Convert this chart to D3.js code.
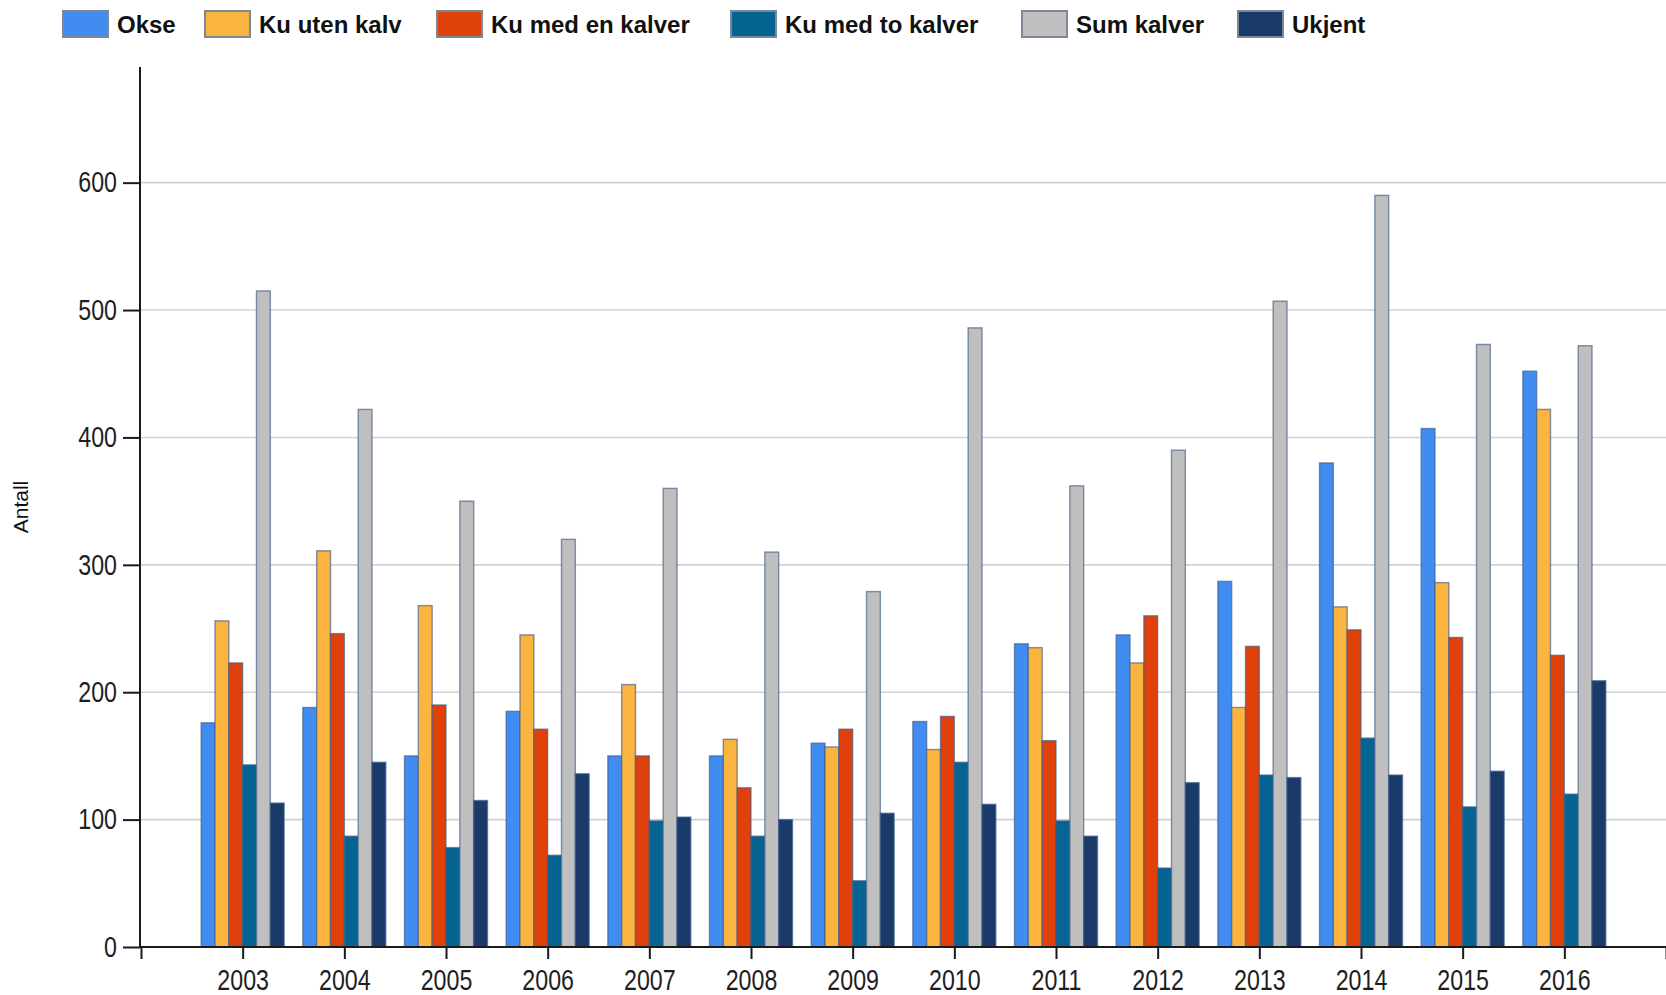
<!DOCTYPE html>
<html>
<head>
<meta charset="utf-8">
<script src="https://cdn.jsdelivr.net/npm/d3@7"></script>
<style>
  body { margin: 0; background: #fff; }
  svg { display: block; }
  .tick-label { font-family: 'Liberation Sans', Arial, sans-serif; font-size: 29px; fill: #1e1e1e; }
  .legend-label { font-family: 'Liberation Sans', Arial, sans-serif; font-weight: bold; font-size: 24px; fill: #111; }
</style>
</head>
<body>
<svg id="chart" width="1666" height="995"></svg>
<script>
// data
const years = [2003, 2004, 2005, 2006, 2007, 2008, 2009, 2010, 2011, 2012, 2013, 2014, 2015, 2016]
const seriesNames = ['Okse', 'Ku uten kalv', 'Ku med en kalver', 'Ku med to kalver', 'Sum kalver', 'Ukjent']
const okse = [176, 188, 150, 185, 150, 150, 160, 177, 238, 245, 287, 380, 407, 452]
const kuUtenKalv = [256, 311, 268, 245, 206, 163, 157, 155, 235, 223, 188, 267, 286, 422]
const kuMedEnKalver = [223, 246, 190, 171, 150, 125, 171, 181, 162, 260, 236, 249, 243, 229]
const kuMedToKalver = [143, 87, 78, 72, 99, 87, 52, 145, 99, 62, 135, 164, 110, 120]
const sumKalver = [515, 422, 350, 320, 360, 310, 279, 486, 362, 390, 507, 590, 473, 472]
const ukjent = [113, 145, 115, 136, 102, 100, 105, 112, 87, 129, 133, 135, 138, 209]
const yTicks = [0, 100, 200, 300, 400, 500, 600]
const colors = ['#418cf0', '#fcb441', '#e0400a', '#056492', '#bfbfbf', '#1a3b69']

const seriesValues = [okse, kuUtenKalv, kuMedEnKalver, kuMedToKalver, sumKalver, ukjent]

const svg = d3.select('#chart')
const axisLeftX = 140
const axisBottomY = 947
const rightX = 1666
const squeeze = 0.8 // tick labels in the picture are a narrow face

const x = d3.scaleLinear().domain([2002, 2017]).range([141, 1666])
const y = d3.scaleLinear().domain([0, 690]).range([axisBottomY, 68])
const inner = d3.scaleBand().domain(seriesNames).range([-41.5, 41.5])

// gridlines
svg.append('g')
  .selectAll('line')
  .data(yTicks.filter(d => d > 0))
  .enter()
  .append('line')
  .attr('x1', axisLeftX)
  .attr('x2', rightX)
  .attr('y1', d => y(d))
  .attr('y2', d => y(d))
  .attr('stroke', '#d2d2d2')
  .attr('stroke-width', 1.6)

// bars
const rows = []
years.forEach((yr, i) => {
  seriesNames.forEach((name, s) => {
    rows.push({ year: yr, name: name, s: s, value: seriesValues[s][i] })
  })
})

svg.append('g')
  .selectAll('rect')
  .data(rows)
  .enter()
  .append('rect')
  .attr('x', d => x(d.year) + inner(d.name))
  .attr('width', inner.bandwidth())
  .attr('y', d => y(d.value))
  .attr('height', d => y(0) - y(d.value))
  .attr('fill', d => colors[d.s])
  .attr('stroke', '#3f5c88')
  .attr('stroke-opacity', 0.65)
  .attr('stroke-width', 1.4)

// y axis
const yAxis = d3.axisLeft(y)
  .tickValues(yTicks)
  .tickSize(17)
  .tickPadding(6)
  .tickSizeOuter(0)

const gy = svg.append('g')
  .attr('transform', `translate(${axisLeftX},0)`)
  .call(yAxis)
gy.select('.domain').remove()
gy.selectAll('.tick line').attr('stroke', '#1a1a1a').attr('stroke-width', 2)
gy.selectAll('.tick text')
  .attr('class', 'tick-label')
  .attr('font-size', null)
  .attr('font-family', null)
  .attr('x', -23 / squeeze)
  .attr('transform', `scale(${squeeze},1)`)

svg.append('line')
  .attr('x1', axisLeftX)
  .attr('x2', axisLeftX)
  .attr('y1', 67)
  .attr('y2', axisBottomY)
  .attr('stroke', '#1a1a1a')
  .attr('stroke-width', 2)

// x axis
const xAxis = d3.axisBottom(x)
  .tickValues(d3.range(2002, 2018))
  .tickFormat(d => (years.includes(d) ? d : ''))
  .tickSize(12)
  .tickPadding(10)
  .tickSizeOuter(0)

const gx = svg.append('g')
  .attr('transform', `translate(0,${axisBottomY})`)
  .call(xAxis)
gx.select('.domain').remove()
gx.selectAll('.tick line').attr('stroke', '#1a1a1a').attr('stroke-width', 2)
gx.selectAll('.tick text')
  .attr('class', 'tick-label')
  .attr('font-size', null)
  .attr('font-family', null)
  .attr('transform', `scale(${squeeze},1)`)

svg.append('line')
  .attr('x1', axisLeftX)
  .attr('x2', rightX)
  .attr('y1', axisBottomY)
  .attr('y2', axisBottomY)
  .attr('stroke', '#1a1a1a')
  .attr('stroke-width', 2)

// y axis title
svg.append('text')
  .attr('transform', 'translate(28,507) rotate(-90)')
  .attr('text-anchor', 'middle')
  .style('font-family', "'Liberation Sans', Arial, sans-serif")
  .style('font-size', '21px')
  .style('fill', '#111')
  .text('Antall')

// legend
const legendX = [63, 205, 437, 731, 1022, 1238]
const legend = svg.append('g')
  .selectAll('g')
  .data(seriesNames)
  .enter()
  .append('g')
  .attr('transform', (d, i) => `translate(${legendX[i]},11)`)

legend.append('rect')
  .attr('width', 45)
  .attr('height', 26)
  .attr('fill', (d, i) => colors[i])
  .attr('stroke', '#7c8798')
  .attr('stroke-width', 2)

legend.append('text')
  .attr('class', 'legend-label')
  .attr('x', 54)
  .attr('y', 22)
  .text(d => d)
</script>
</body>
</html>
